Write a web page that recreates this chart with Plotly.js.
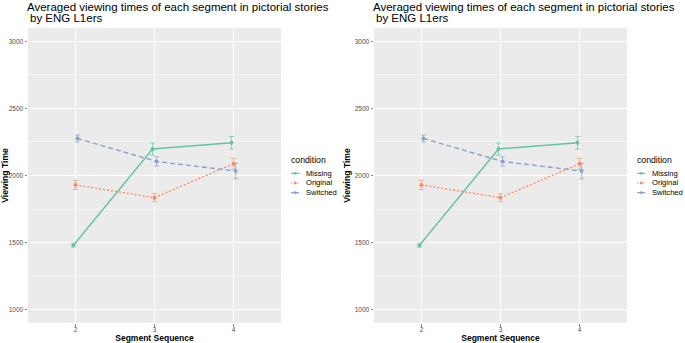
<!DOCTYPE html>
<html>
<head>
<meta charset="utf-8">
<script src="https://cdn.plot.ly/plotly-3.0.1.min.js"></script>
<style>html,body{margin:0;padding:0;background:#fff;}#chart{width:685px;height:343px;}</style>
</head>
<body>
<div id="chart"></div>
<script>
// ---- data ----
const segments = [2, 3, 4];
const conditions = ['Missing', 'Original', 'Switched'];
const missingMean = [1480, 2198, 2244];
const missingSE = [14, 45, 47];
const originalMean = [1930, 1835, 2087];
const originalSE = [34, 30, 42];
const switchedMean = [2276, 2105, 2033];
const switchedSE = [26, 34, 58];
const yTicks = [1000, 1500, 2000, 2500, 3000];
const titleLine1 = 'Averaged viewing times of each segment in pictorial stories';
const titleLine2 = 'by ENG L1ers';
const xTitle = 'Segment Sequence';
const yTitle = 'Viewing Time';
const legendTitle = 'condition';

// ---- style ----
const colors = ['#66C2A5', '#FC8D62', '#8DA0CB'];
const errColors = ['rgba(102,194,165,0.75)', 'rgba(252,141,98,0.75)', 'rgba(141,160,203,0.75)'];
const dashes = ['solid', '2px,2px', '5px,3px'];
const dodge = [-0.025, 0, 0.025];
const means = [missingMean, originalMean, switchedMean];
const ses = [missingSE, originalSE, switchedSE];
const FONT = 'Liberation Sans, Arial, Helvetica, sans-serif';

const W = 685, H = 343, ML = 28, MR = 0, MT = 28, MB = 20;
const PW = W - ML - MR, PH = H - MT - MB;
const px2x = p => (p - ML) / PW;
const px2y = p => (H - MB - p) / PH;

const panels = [{xa: 'x', ya: 'y', off: 0}, {xa: 'x2', ya: 'y2', off: 346}];

const traces = [];
panels.forEach(pn => {
  conditions.forEach((c, i) => {
    traces.push({
      type: 'scatter', mode: 'lines+markers', name: c,
      x: segments.map(s => s + dodge[i]), y: means[i],
      xaxis: pn.xa, yaxis: pn.ya, showlegend: false,
      line: {color: colors[i], width: 1.4, dash: dashes[i]},
      marker: {color: colors[i], size: 4},
      error_y: {type: 'data', array: ses[i], visible: true, color: errColors[i], thickness: 0.9, width: 2.6},
      hoverinfo: 'x+y+name'
    });
  });
});

function xAxis(domain, anchor) {
  return {
    domain: domain, anchor: anchor, range: [1.4, 4.6],
    tickvals: segments, ticktext: segments.map(String),
    showgrid: true, gridcolor: '#FFFFFF', gridwidth: 1.1, zeroline: false,
    ticks: 'outside', ticklen: 2.5, tickwidth: 0.6, tickcolor: '#333333',
    ticklabelstandoff: -2,
    tickfont: {family: FONT, size: 6.5, color: '#4D4D4D'},
    title: {text: xTitle, font: {family: FONT, size: 8.5, color: '#000', weight: 'bold'}, standoff: 3},
    showline: false, fixedrange: true
  };
}
function yAxis(anchor) {
  return {
    domain: [0, 1], anchor: anchor, range: [900, 3100],
    tickvals: yTicks, ticktext: yTicks.map(String),
    showgrid: true, gridcolor: '#FFFFFF', gridwidth: 1.1, zeroline: false,
    minor: {showgrid: true, gridcolor: '#FFFFFF', gridwidth: 0.5, tick0: 1000, dtick: 250, ticks: ''},
    ticks: 'outside', ticklen: 2.5, tickwidth: 0.6, tickcolor: '#333333',
    tickfont: {family: FONT, size: 6.5, color: '#4D4D4D'},
    title: {text: yTitle, font: {family: FONT, size: 8.6, color: '#000', weight: 'bold'}, standoff: 2},
    showline: false, fixedrange: true
  };
}

const annotations = [];
const shapes = [];
panels.forEach(pn => {
  const o = pn.off;
  annotations.push({xref: 'paper', yref: 'paper', x: px2x(27 + o), y: px2y(7), xanchor: 'left', yanchor: 'middle',
    text: titleLine1, showarrow: false, borderwidth: 0, borderpad: 0, font: {family: FONT, size: 11.5, color: '#000'}});
  annotations.push({xref: 'paper', yref: 'paper', x: px2x(30 + o), y: px2y(18.5), xanchor: 'left', yanchor: 'middle',
    text: titleLine2, showarrow: false, borderwidth: 0, borderpad: 0, font: {family: FONT, size: 11.5, color: '#000'}});
  annotations.push({xref: 'paper', yref: 'paper', x: px2x(291 + o), y: px2y(160), xanchor: 'left', yanchor: 'middle',
    text: legendTitle, showarrow: false, borderwidth: 0, borderpad: 0, font: {family: FONT, size: 8.7, color: '#000'}});
  conditions.forEach((c, i) => {
    const cy = 173.3 + i * 9.7;
    annotations.push({xref: 'paper', yref: 'paper', x: px2x(306 + o), y: px2y(cy), xanchor: 'left', yanchor: 'middle',
      text: c, showarrow: false, borderwidth: 0, borderpad: 0, font: {family: FONT, size: 7.6, color: '#000'}});
    shapes.push({type: 'line', xref: 'paper', yref: 'paper', x0: px2x(291 + o), x1: px2x(299.5 + o), y0: px2y(cy), y1: px2y(cy),
      line: {color: colors[i], width: 1.2, dash: i === 0 ? 'solid' : (i === 1 ? '1.5px,1.5px' : '3px,2px')}});
    shapes.push({type: 'circle', xref: 'paper', yref: 'paper', x0: px2x(293.8 + o), x1: px2x(296.6 + o), y0: px2y(cy + 1.4), y1: px2y(cy - 1.4),
      fillcolor: colors[i], line: {width: 0}});
  });
});

const layout = {
  width: W, height: H,
  margin: {l: ML, r: MR, t: MT, b: MB, pad: 0},
  paper_bgcolor: '#FFFFFF', plot_bgcolor: '#EBEBEB',
  font: {family: FONT},
  showlegend: false,
  xaxis: xAxis([0, 253 / PW], 'y'),
  yaxis: yAxis('x'),
  xaxis2: xAxis([346 / PW, 599 / PW], 'y2'),
  yaxis2: yAxis('x2'),
  annotations: annotations,
  shapes: shapes
};

Plotly.newPlot('chart', traces, layout, {displayModeBar: false, staticPlot: true});
</script>
</body>
</html>
